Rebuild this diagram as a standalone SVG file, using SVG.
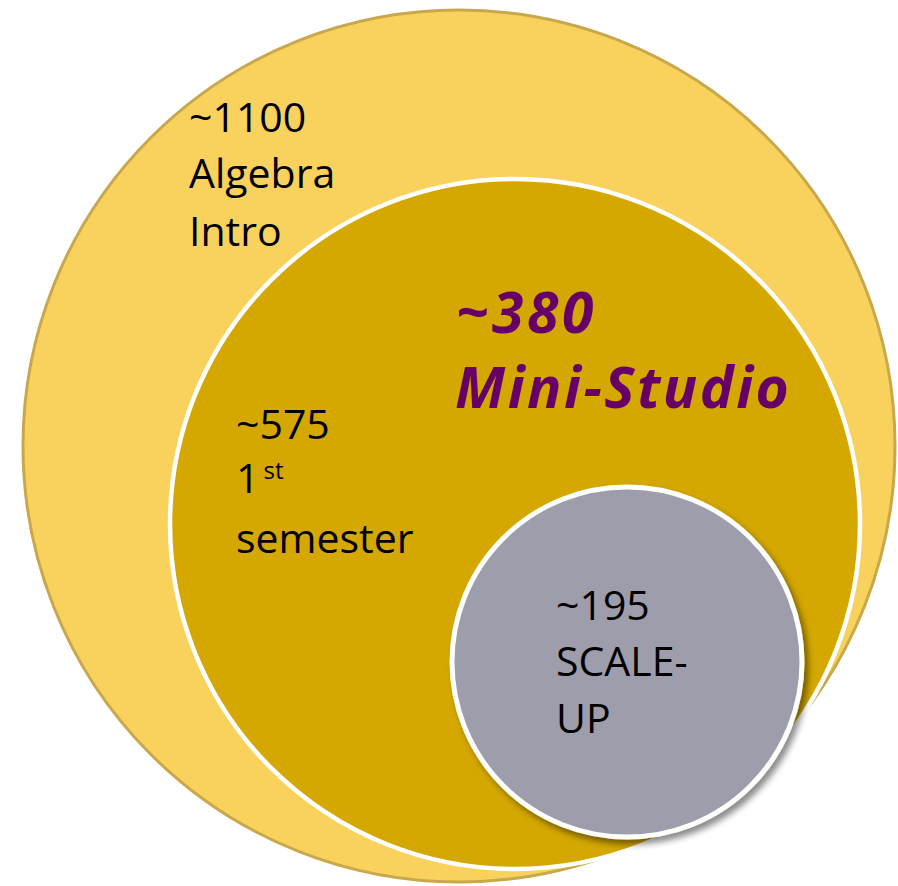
<svg xmlns="http://www.w3.org/2000/svg" width="898" height="886" viewBox="0 0 898 886">
  <defs>
    <filter id="shadow" x="-20%" y="-20%" width="140%" height="140%">
      <feDropShadow dx="4" dy="5" stdDeviation="3" flood-color="#000" flood-opacity="0.45"/>
    </filter>
    <style>
      .label { font-family: "Open Sans", "Liberation Sans", sans-serif; font-size: 41px; fill: #000; }
      .sup { font-size: 24px; }
      .accent { font-family: "Open Sans", "Liberation Sans", sans-serif; font-weight: bold; font-style: italic; fill: #660066; font-size: 57px; }
    </style>
  </defs>
  <rect width="898" height="886" fill="#fff"/>

  <!-- outer set: algebra intro -->
  <g id="algebra-intro">
    <circle cx="459" cy="446" r="436" fill="#F9D25E" stroke="#C8A84A" stroke-width="3"/>
    <text class="label" x="189" y="132">~1100</text>
    <text class="label" x="189" y="188">Algebra</text>
    <text class="label" x="189" y="246">Intro</text>
  </g>

  <!-- middle set: first semester -->
  <g id="first-semester">
    <circle cx="515" cy="524" r="345" fill="#D4A800" stroke="#fff" stroke-width="4.5"/>
    <text class="label" x="236" y="439">~575</text>
    <text class="label" x="236" y="493">1<tspan class="sup" dx="4" dy="-14">st</tspan></text>
    <text class="label" x="236" y="553">semester</text>
  </g>

  <!-- mini-studio label -->
  <g id="mini-studio">
    <text class="accent" x="456" y="333" letter-spacing="3.5">~380</text>
    <text class="accent" x="455" y="408" letter-spacing="2.5">Mini-Studio</text>
  </g>

  <!-- inner set: scale-up -->
  <g id="scale-up">
    <circle cx="627" cy="662" r="175" fill="#9E9DAC" stroke="#fff" stroke-width="5" filter="url(#shadow)"/>
    <text class="label" x="556" y="620">~195</text>
    <text class="label" x="556" y="676">SCALE-</text>
    <text class="label" x="556" y="733">UP</text>
  </g>
</svg>
